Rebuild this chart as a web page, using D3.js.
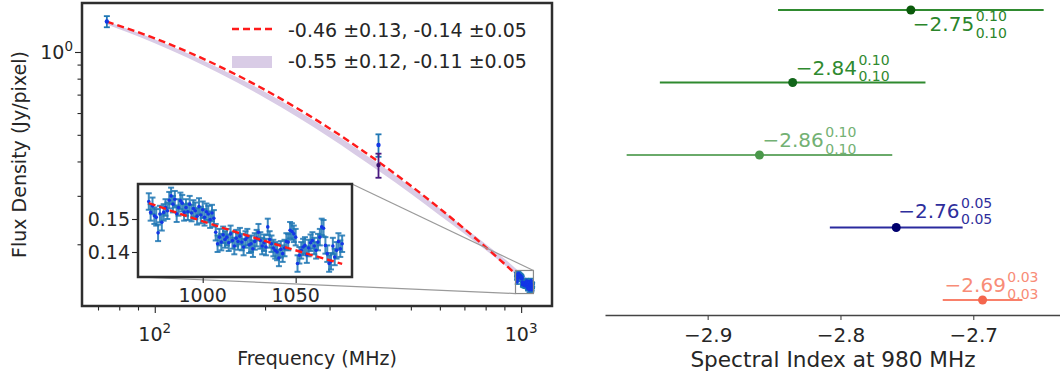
<!DOCTYPE html>
<html>
<head>
<meta charset="utf-8">
<script src="https://cdn.jsdelivr.net/npm/d3@7"></script>
<style>
    body { margin: 0; background: #fff; }
    svg { display: block; font-family: "DejaVu Sans", sans-serif; }
</style>
</head>
<body>
<svg id="spectrum-chart" width="1060" height="378"></svg>
<script>
// ---- data ----
const MAIN_FREQ = [74, 408];
const MAIN_FLUX = [1.29, 0.459];
const MAIN_ERR = [0.06, 0.043];

const EXTRA_FREQ = [408];
const EXTRA_FLUX = [0.388];
const EXTRA_ERR = [0.039];

const INSET_FREQ = [
    971, 972, 973, 974, 975, 976, 977, 978, 979, 980, 981, 982, 983, 984, 985,
    986, 987, 988, 989, 990, 991, 992, 993, 994, 995, 996, 997, 998, 999, 1000,
    1001, 1002, 1003, 1004, 1005, 1006, 1007, 1008, 1009, 1010, 1011, 1012, 1013, 1014, 1015,
    1016, 1017, 1018, 1019, 1020, 1021, 1022, 1023, 1024, 1025, 1026, 1027, 1028, 1029, 1030,
    1031, 1032, 1033, 1034, 1035, 1036, 1037, 1038, 1039, 1040, 1041, 1042, 1043, 1044, 1045,
    1046, 1047, 1048, 1049, 1050, 1051, 1052, 1053, 1054, 1055, 1056, 1057, 1058, 1059, 1060,
    1061, 1062, 1063, 1064, 1065, 1066, 1067, 1068, 1069, 1070, 1071, 1072, 1073, 1074, 1075
];
const INSET_FLUX = [
    0.1553, 0.1520, 0.1540, 0.1510, 0.1505, 0.1458, 0.1515, 0.1490, 0.1520, 0.1535, 0.1525, 0.1557, 0.1570, 0.1545, 0.1560,
    0.1516, 0.1535, 0.1555, 0.1548, 0.1520, 0.1535, 0.1522, 0.1545, 0.1518, 0.1532, 0.1525, 0.1508, 0.1538, 0.1512, 0.1528,
    0.1505, 0.1522, 0.1515, 0.1498, 0.1518, 0.1502, 0.1460, 0.1425, 0.1445, 0.1430, 0.1452, 0.1438, 0.1445, 0.1428, 0.1455,
    0.1435, 0.1418, 0.1442, 0.1432, 0.1448, 0.1430, 0.1415, 0.1438, 0.1445, 0.1422, 0.1425, 0.1410, 0.1432, 0.1442, 0.1460,
    0.1435, 0.1418, 0.1428, 0.1415, 0.1476, 0.1438, 0.1425, 0.1412, 0.1405, 0.1400, 0.1382, 0.1408, 0.1395, 0.1412, 0.1432,
    0.1430, 0.1466, 0.1462, 0.1455, 0.1445, 0.1365, 0.1390, 0.1405, 0.1415, 0.1420, 0.1392, 0.1412, 0.1428, 0.1435, 0.1418,
    0.1405, 0.1430, 0.1445, 0.1476, 0.1472, 0.1420, 0.1395, 0.1365, 0.1372, 0.1418, 0.1385, 0.1405, 0.1432, 0.1410, 0.1425
];
const INSET_ERR = 0.0025;

// fitted curve (red dashed) and the second fit's band
const CURVE_FREQ = [74, 100, 150, 200, 300, 408, 500, 600, 700, 800, 900, 971, 1000, 1040, 1075];
const CURVE_FLUX = [1.290, 1.121, 0.887, 0.728, 0.5275, 0.399, 0.3264, 0.2696, 0.2276, 0.1953, 0.1698, 0.1548, 0.1493, 0.1422, 0.1364];

const BAND_FREQ = [74, 100, 150, 200, 300, 408, 500, 600, 700, 800, 900, 1000, 1075];
const BAND_HI = [1.290, 1.1117, 0.8723, 0.7159, 0.5187, 0.3924, 0.3237, 0.2696, 0.2295, 0.2003, 0.1771, 0.1570, 0.1446];
const BAND_LO = [1.258, 1.075, 0.8365, 0.6808, 0.4892, 0.3700, 0.3053, 0.2543, 0.2183, 0.1905, 0.1684, 0.1493, 0.1375];

const LEGEND_LABELS = ["-0.46 \u00b10.13, -0.14 \u00b10.05", "-0.55 \u00b10.12, -0.11 \u00b10.05"];

// right panel: spectral index at 980 MHz, top row first
const INDEX_VALUES = [-2.747, -2.836, -2.861, -2.758, -2.693];
const INDEX_ERR = [0.10, 0.10, 0.10, 0.05, 0.03];
const INDEX_LABELS = ["\u22122.75", "\u22122.84", "\u22122.86", "\u22122.76", "\u22122.69"];
const INDEX_ERR_LABELS = ["0.10", "0.10", "0.10", "0.05", "0.03"];
const INDEX_TICKS = [-2.9, -2.8, -2.7];

// ---- layout / style ----
const MAIN = { left: 82, right: 552, top: 3, bottom: 306 };
const INSET = { left: 138, right: 352, top: 184, bottom: 277 };
const FONT = 19;
const AXIS_COLOR = "#262626";
const ERR_BLUE = "#1f77b4";
const DOT_BLUE = "#1437e6";
const BAND_COLOR = "#d9cce6";

const ROW_STYLE = [
    { line: "#2f8a2f", dot: "#0b5a0b", text: "#2a852a", dx: 2, dy: 21 },
    { line: "#2f8a2f", dot: "#12661a", text: "#2f8a2f", dx: 3, dy: -8 },
    { line: "#6aaa6a", dot: "#4a984a", text: "#73b173", dx: 3, dy: -8 },
    { line: "#2a2a9e", dot: "#00006e", text: "#2e2e9c", dx: 2, dy: -10 },
    { line: "#f9806a", dot: "#f4664d", text: "#f88c77", dx: -38, dy: -8 }
];

const svg = d3.select("#spectrum-chart");

function drawErrorBars(group, points, xScale, yScale, style) {
    const g = group.append("g");
    g.selectAll("line.bar").data(points).join("line")
        .classed("bar", true)
        .attr("x1", d => xScale(d.f)).attr("x2", d => xScale(d.f))
        .attr("y1", d => yScale(d.v - d.e)).attr("y2", d => yScale(d.v + d.e))
        .attr("stroke", style.color).attr("stroke-width", style.width)
        .attr("opacity", style.opacity || 1);
    ["top", "bottom"].forEach(side => {
        g.selectAll("line.cap-" + side).data(points).join("line")
            .classed("cap-" + side, true)
            .attr("x1", d => xScale(d.f) - style.cap).attr("x2", d => xScale(d.f) + style.cap)
            .attr("y1", d => yScale(side === "top" ? d.v + d.e : d.v - d.e))
            .attr("y2", d => yScale(side === "top" ? d.v + d.e : d.v - d.e))
            .attr("stroke", style.color).attr("stroke-width", style.width)
            .attr("opacity", style.opacity || 1);
    });
    g.selectAll("circle").data(points).join("circle")
        .attr("cx", d => xScale(d.f)).attr("cy", d => yScale(d.v))
        .attr("r", style.r).attr("fill", style.dot);
}

// ================= left panel =================
const xMain = d3.scaleLog().domain([63.3, 1214]).range([MAIN.left, MAIN.right]);
const yMain = d3.scaleLog().domain([0.1193, 1.507]).range([MAIN.bottom, MAIN.top]);

svg.append("clipPath").attr("id", "clip-main").append("rect")
    .attr("x", MAIN.left).attr("y", MAIN.top)
    .attr("width", MAIN.right - MAIN.left).attr("height", MAIN.bottom - MAIN.top);

const mainPlot = svg.append("g").attr("clip-path", "url(#clip-main)");

const bandData = BAND_FREQ.map((f, i) => ({ f: f, lo: BAND_LO[i], hi: BAND_HI[i] }));
mainPlot.append("path").datum(bandData)
    .attr("d", d3.area()
        .x(d => xMain(d.f)).y0(d => yMain(d.lo)).y1(d => yMain(d.hi))
        .curve(d3.curveMonotoneX))
    .attr("fill", BAND_COLOR);

const curveData = CURVE_FREQ.map((f, i) => ({ f: f, v: CURVE_FLUX[i] }));
mainPlot.append("path").datum(curveData)
    .attr("d", d3.line().x(d => xMain(d.f)).y(d => yMain(d.v)).curve(d3.curveMonotoneX))
    .attr("fill", "none").attr("stroke", "#ff1a1a").attr("stroke-width", 2.4)
    .attr("stroke-dasharray", "7,4");

const insetPoints = INSET_FREQ.map((f, i) => ({ f: f, v: INSET_FLUX[i], e: INSET_ERR }));
drawErrorBars(mainPlot, insetPoints, xMain, yMain, { color: ERR_BLUE, width: 1.6, cap: 2.5, r: 1.6, dot: DOT_BLUE });
drawErrorBars(mainPlot, MAIN_FREQ.map((f, i) => ({ f: f, v: MAIN_FLUX[i], e: MAIN_ERR[i] })),
    xMain, yMain, { color: ERR_BLUE, width: 1.8, cap: 3, r: 2.2, dot: DOT_BLUE });
drawErrorBars(mainPlot, EXTRA_FREQ.map((f, i) => ({ f: f, v: EXTRA_FLUX[i], e: EXTRA_ERR[i] })),
    xMain, yMain, { color: "#4a1a80", width: 1.8, cap: 3, r: 2.2, dot: "#3a1070" });

// zoom box and connectors
const insetX = d3.scaleLinear().domain([965.2, 1080.3]).range([INSET.left, INSET.right]);
const insetY = d3.scaleLinear().domain([0.13242, 0.16061]).range([INSET.bottom, INSET.top]);
const box = {
    x0: xMain(insetX.domain()[0]), x1: xMain(insetX.domain()[1]),
    y0: yMain(insetY.domain()[1]), y1: yMain(insetY.domain()[0])
};
svg.append("rect")
    .attr("x", box.x0).attr("y", box.y0)
    .attr("width", box.x1 - box.x0).attr("height", box.y1 - box.y0)
    .attr("fill", "none").attr("stroke", "#8a8a8a").attr("stroke-width", 1.2);
svg.append("line")
    .attr("x1", INSET.right).attr("y1", INSET.top).attr("x2", box.x1).attr("y2", box.y0)
    .attr("stroke", "#9a9a9a").attr("stroke-width", 1.2);
svg.append("line")
    .attr("x1", INSET.left).attr("y1", INSET.bottom).attr("x2", box.x0).attr("y2", box.y1)
    .attr("stroke", "#9a9a9a").attr("stroke-width", 1.2);

// main axes
const xMinor = [70, 80, 90, 200, 300, 400, 500, 600, 700, 800, 900];
const yMinor = [0.2, 0.3, 0.4, 0.5, 0.6, 0.7, 0.8, 0.9];

function styleAxis(g) {
    g.select(".domain").remove();
    g.selectAll(".tick line").attr("stroke", AXIS_COLOR).attr("stroke-width", 1.1);
}

svg.append("g").attr("transform", `translate(0, ${MAIN.bottom + 1})`)
    .call(d3.axisBottom(xMain).tickValues([100, 1000]).tickSize(6).tickFormat(""))
    .call(styleAxis);
svg.append("g").attr("transform", `translate(0, ${MAIN.bottom + 1})`)
    .call(d3.axisBottom(xMain).tickValues(xMinor).tickSize(3.5).tickFormat(""))
    .call(styleAxis);
svg.append("g").attr("transform", `translate(${MAIN.left - 1}, 0)`)
    .call(d3.axisLeft(yMain).tickValues([1]).tickSize(6).tickFormat(""))
    .call(styleAxis);
svg.append("g").attr("transform", `translate(${MAIN.left - 1}, 0)`)
    .call(d3.axisLeft(yMain).tickValues(yMinor).tickSize(3.5).tickFormat(""))
    .call(styleAxis);

function powerLabel(x, y, anchor, exponent) {
    const t = svg.append("text").attr("x", x).attr("y", y)
        .attr("text-anchor", anchor).attr("font-size", FONT).attr("fill", AXIS_COLOR);
    t.append("tspan").text("10");
    t.append("tspan").attr("dy", -8).attr("font-size", 13.5).text(exponent);
}
powerLabel(xMain(100), 341, "middle", "2");
powerLabel(xMain(1000), 341, "middle", "3");
powerLabel(MAIN.left - 9, yMain(1) + 7, "end", "0");

svg.append("text")
    .attr("x", (MAIN.left + MAIN.right) / 2).attr("y", 365)
    .attr("text-anchor", "middle").attr("font-size", FONT).attr("fill", AXIS_COLOR)
    .text("Frequency (MHz)");
svg.append("text")
    .attr("transform", `translate(26, ${(MAIN.top + MAIN.bottom) / 2}) rotate(-90)`)
    .attr("text-anchor", "middle").attr("font-size", FONT).attr("fill", AXIS_COLOR)
    .text("Flux Density (Jy/pixel)");

// legend
const legend = svg.append("g");
legend.append("line").attr("x1", 232).attr("x2", 272).attr("y1", 29).attr("y2", 29)
    .attr("stroke", "#ff1a1a").attr("stroke-width", 2.4).attr("stroke-dasharray", "7,4");
legend.append("rect").attr("x", 232).attr("y", 56).attr("width", 40).attr("height", 12)
    .attr("fill", BAND_COLOR);
legend.selectAll("text").data(LEGEND_LABELS).join("text")
    .attr("x", 288).attr("y", (d, i) => 37 + i * 31)
    .attr("font-size", FONT).attr("fill", AXIS_COLOR)
    .text(d => d);

// ================= inset =================
svg.append("clipPath").attr("id", "clip-inset").append("rect")
    .attr("x", INSET.left).attr("y", INSET.top)
    .attr("width", INSET.right - INSET.left).attr("height", INSET.bottom - INSET.top);
svg.append("rect")
    .attr("x", INSET.left).attr("y", INSET.top)
    .attr("width", INSET.right - INSET.left).attr("height", INSET.bottom - INSET.top)
    .attr("fill", "#fff");
const insetPlot = svg.append("g").attr("clip-path", "url(#clip-inset)");
drawErrorBars(insetPlot, insetPoints, insetX, insetY,
    { color: ERR_BLUE, width: 2, cap: 3, r: 1.8, dot: DOT_BLUE, opacity: 0.85 });
insetPlot.append("path")
    .datum(curveData.filter(d => d.f >= 960))
    .attr("d", d3.line().x(d => insetX(d.f)).y(d => insetY(d.v)).curve(d3.curveMonotoneX))
    .attr("fill", "none").attr("stroke", "#ff1a1a").attr("stroke-width", 2.4)
    .attr("stroke-dasharray", "7,4");

svg.append("g").attr("transform", `translate(0, ${INSET.bottom + 1})`)
    .call(d3.axisBottom(insetX).tickValues([1000, 1050]).tickSize(5).tickFormat(""))
    .call(styleAxis);
svg.append("g").attr("transform", `translate(${INSET.left - 1}, 0)`)
    .call(d3.axisLeft(insetY).tickValues([0.14, 0.15]).tickSize(5).tickFormat(""))
    .call(styleAxis);
svg.selectAll("text.inset-x").data([1000, 1050]).join("text")
    .attr("x", d => insetX(d)).attr("y", 302)
    .attr("text-anchor", "middle").attr("font-size", FONT).attr("fill", AXIS_COLOR)
    .text(d => d);
svg.selectAll("text.inset-y").data([0.15, 0.14]).join("text")
    .attr("x", INSET.left - 8).attr("y", d => insetY(d) + 7)
    .attr("text-anchor", "end").attr("font-size", FONT).attr("fill", AXIS_COLOR)
    .text(d => d.toFixed(2));

svg.append("rect")
    .attr("x", INSET.left).attr("y", INSET.top)
    .attr("width", INSET.right - INSET.left).attr("height", INSET.bottom - INSET.top)
    .attr("fill", "none").attr("stroke", "#2e2e2e").attr("stroke-width", 2.5);

svg.append("rect")
    .attr("x", MAIN.left).attr("y", MAIN.top)
    .attr("width", MAIN.right - MAIN.left).attr("height", MAIN.bottom - MAIN.top)
    .attr("fill", "none").attr("stroke", "#2e2e2e").attr("stroke-width", 2.5);

// ================= right panel =================
const xIndex = d3.scaleLinear().domain([-2.9773, -2.6347]).range([605, 1060]);
const yIndex = d3.scaleLinear().domain([0, INDEX_VALUES.length - 1]).range([10, 300]);
const AXIS_Y = 315;

const rightAxis = svg.append("g").attr("transform", `translate(0, ${AXIS_Y})`)
    .call(d3.axisBottom(xIndex).tickValues(INDEX_TICKS).tickSize(5).tickSizeOuter(0)
        .tickFormat(d3.format(".1f")));
rightAxis.select(".domain").attr("stroke", "#444").attr("stroke-width", 1.3);
rightAxis.selectAll(".tick line").attr("stroke", "#444").attr("stroke-width", 1.1);
rightAxis.selectAll(".tick text")
    .attr("y", 13).attr("dy", "0.71em")
    .attr("font-size", 20).attr("font-family", "DejaVu Sans").attr("fill", AXIS_COLOR);

svg.append("text")
    .attr("x", 833).attr("y", 367)
    .attr("text-anchor", "middle").attr("font-size", 21.6).attr("fill", AXIS_COLOR)
    .text("Spectral Index at 980 MHz");

const rows = svg.append("g");
INDEX_VALUES.forEach((value, i) => {
    const style = ROW_STYLE[i];
    const cy = yIndex(i);
    rows.append("line")
        .attr("x1", xIndex(value - INDEX_ERR[i])).attr("x2", xIndex(value + INDEX_ERR[i]))
        .attr("y1", cy).attr("y2", cy)
        .attr("stroke", style.line).attr("stroke-width", 2.2);
    rows.append("circle")
        .attr("cx", xIndex(value)).attr("cy", cy).attr("r", 4.5)
        .attr("fill", style.dot);

    const tx = xIndex(value) + style.dx;
    const ty = cy + style.dy;
    const label = rows.append("text")
        .attr("x", tx).attr("y", ty)
        .attr("font-size", 20).attr("fill", style.text)
        .text(INDEX_LABELS[i]);
    const w = label.node().getComputedTextLength();
    rows.append("text")
        .attr("x", tx + w + 1.5).attr("y", ty - 10)
        .attr("font-size", 14).attr("fill", style.text)
        .text(INDEX_ERR_LABELS[i]);
    rows.append("text")
        .attr("x", tx + w + 1.5).attr("y", ty + 6.5)
        .attr("font-size", 14).attr("fill", style.text)
        .text(INDEX_ERR_LABELS[i]);
});
</script>
</body>
</html>
